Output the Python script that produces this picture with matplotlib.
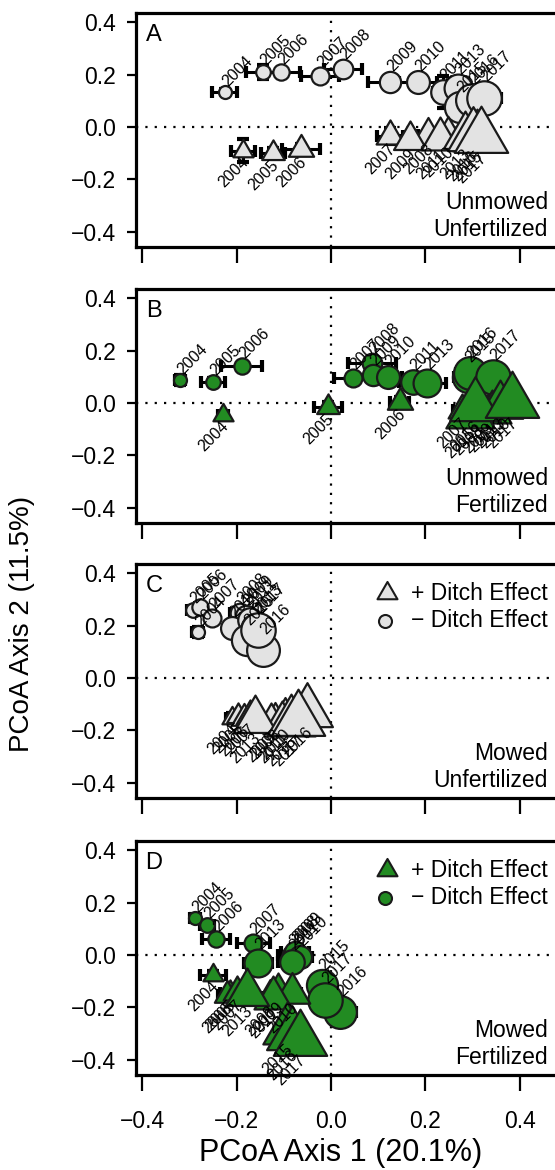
import numpy as np
import matplotlib
matplotlib.use('Agg')
import matplotlib.pyplot as plt
from matplotlib.path import Path

plt.rcParams['font.family'] = ['Liberation Sans', 'DejaVu Sans']

years = [2004, 2005, 2006, 2007, 2008, 2009, 2010, 2011, 2013, 2015, 2016, 2017]
x_ticks = [-0.4, -0.2, 0.0, 0.2, 0.4]
y_ticks = [-0.4, -0.2, 0.0, 0.2, 0.4]

# ---------------- Panel A : Unmowed / Unfertilized ----------------
A_minus_x = [-0.225, -0.144, -0.106, -0.023, 0.025, 0.125, 0.184, 0.237, 0.269, 0.273, 0.299, 0.324]
A_minus_y = [0.134, 0.210, 0.210, 0.195, 0.221, 0.172, 0.172, 0.134, 0.149, 0.076, 0.103, 0.111]
A_minus_xerr = [0.026, 0.036, 0.040, 0.040, 0.040, 0.047, 0.040, 0.020, 0.020, 0.020, 0.020, 0.036]
A_minus_yerr = [0.010, 0.025, 0.015, 0.020, 0.015, 0.015, 0.020, 0.060, 0.020, 0.020, 0.020, 0.020]
A_plus_x = [-0.186, -0.123, -0.064, 0.125, 0.205, 0.168, 0.248, 0.232, 0.284, 0.310, 0.300, 0.318]
A_plus_y = [-0.090, -0.100, -0.085, -0.035, -0.030, -0.048, -0.038, -0.045, -0.035, -0.038, -0.036, -0.040]
A_plus_xerr = [0.025, 0.025, 0.040, 0.028, 0.020, 0.020, 0.020, 0.020, 0.015, 0.015, 0.015, 0.015]
A_plus_yerr = [0.045, 0.020, 0.020, 0.030, 0.020, 0.020, 0.020, 0.020, 0.015, 0.015, 0.015, 0.015]

# ---------------- Panel B : Unmowed / Fertilized ----------------
B_minus_x = [-0.320, -0.250, -0.189, 0.047, 0.087, 0.089, 0.121, 0.174, 0.203, 0.290, 0.294, 0.343]
B_minus_y = [0.088, 0.080, 0.141, 0.095, 0.153, 0.107, 0.099, 0.080, 0.076, 0.099, 0.115, 0.099]
B_minus_xerr = [0.010, 0.025, 0.044, 0.040, 0.050, 0.040, 0.030, 0.030, 0.040, 0.030, 0.030, 0.030]
B_minus_yerr = [0.020, 0.015, 0.015, 0.020, 0.020, 0.020, 0.020, 0.020, 0.020, 0.020, 0.020, 0.020]
B_plus_x = [-0.229, -0.006, 0.146, 0.278, 0.311, 0.333, 0.369, 0.341, 0.358, 0.294, 0.305, 0.383]
B_plus_y = [-0.046, -0.015, 0.004, -0.027, -0.050, -0.038, -0.019, -0.034, -0.008, -0.042, -0.011, 0.004]
B_plus_xerr = [0.010, 0.030, 0.020, 0.020, 0.020, 0.020, 0.020, 0.020, 0.020, 0.020, 0.020, 0.020]
B_plus_yerr = [0.010, 0.020, 0.020, 0.020, 0.020, 0.020, 0.020, 0.020, 0.020, 0.020, 0.020, 0.020]

# ---------------- Panel C : Mowed / Unfertilized ----------------
C_minus_x = [-0.282, -0.292, -0.278, -0.252, -0.193, -0.180, -0.210, -0.172, -0.161, -0.178, -0.144, -0.155]
C_minus_y = [0.176, 0.260, 0.271, 0.229, 0.248, 0.237, 0.191, 0.221, 0.191, 0.145, 0.107, 0.183]
C_minus_xerr = [0.012, 0.012, 0.010, 0.012, 0.020, 0.015, 0.012, 0.015, 0.015, 0.012, 0.015, 0.015]
C_minus_yerr = [0.020, 0.015, 0.015, 0.015, 0.020, 0.015, 0.015, 0.015, 0.015, 0.015, 0.015, 0.015]
C_plus_x = [-0.210, -0.197, -0.184, -0.172, -0.119, -0.127, -0.097, -0.104, -0.161, -0.085, -0.051, -0.070]
C_plus_y = [-0.153, -0.145, -0.153, -0.145, -0.160, -0.168, -0.153, -0.172, -0.160, -0.168, -0.130, -0.160]
C_plus_xerr = [0.012, 0.012, 0.012, 0.012, 0.012, 0.012, 0.012, 0.012, 0.012, 0.012, 0.012, 0.012]
C_plus_yerr = [0.020, 0.015, 0.015, 0.015, 0.015, 0.015, 0.015, 0.015, 0.015, 0.015, 0.015, 0.015]

# ---------------- Panel D : Mowed / Fertilized ----------------
D_minus_x = [-0.288, -0.263, -0.244, -0.165, -0.083, -0.076, -0.066, -0.083, -0.155, -0.019, 0.019, -0.013]
D_minus_y = [0.141, 0.115, 0.061, 0.046, 0.000, 0.011, -0.008, -0.027, -0.031, -0.115, -0.218, -0.172]
D_minus_xerr = [0.010, 0.015, 0.030, 0.035, 0.030, 0.030, 0.025, 0.030, 0.030, 0.025, 0.035, 0.025]
D_minus_yerr = [0.015, 0.015, 0.015, 0.015, 0.015, 0.015, 0.015, 0.015, 0.015, 0.015, 0.015, 0.015]
D_plus_x = [-0.250, -0.214, -0.220, -0.199, -0.129, -0.112, -0.083, -0.123, -0.178, -0.093, -0.083, -0.066]
D_plus_y = [-0.076, -0.145, -0.153, -0.141, -0.160, -0.141, -0.145, -0.164, -0.145, -0.286, -0.305, -0.324]
D_plus_xerr = [0.027, 0.020, 0.020, 0.020, 0.020, 0.020, 0.020, 0.020, 0.020, 0.020, 0.020, 0.020]
D_plus_yerr = [0.015, 0.015, 0.015, 0.015, 0.015, 0.015, 0.015, 0.015, 0.015, 0.015, 0.015, 0.015]

panel_letters = ["A", "B", "C", "D"]
mow_labels = ["Unmowed", "Unmowed", "Mowed", "Mowed"]
fert_labels = ["Unfertilized", "Fertilized", "Unfertilized", "Fertilized"]
legend_labels = ["+ Ditch Effect", "\u2212 Ditch Effect"]
x_title = "PCoA Axis 1 (20.1%)"
y_title = "PCoA Axis 2 (11.5%)"

GREY = "#e3e3e3"
GREEN = "#228b22"
EDGE = "#1a1a1a"

panels = [
    (A_minus_x, A_minus_y, A_minus_xerr, A_minus_yerr, A_plus_x, A_plus_y, A_plus_xerr, A_plus_yerr, GREY),
    (B_minus_x, B_minus_y, B_minus_xerr, B_minus_yerr, B_plus_x, B_plus_y, B_plus_xerr, B_plus_yerr, GREEN),
    (C_minus_x, C_minus_y, C_minus_xerr, C_minus_yerr, C_plus_x, C_plus_y, C_plus_xerr, C_plus_yerr, GREY),
    (D_minus_x, D_minus_y, D_minus_xerr, D_minus_yerr, D_plus_x, D_plus_y, D_plus_xerr, D_plus_yerr, GREEN),
]

# equilateral triangle marker (centroid at origin)
tri = Path([(-1, -0.577), (1, -0.577), (0, 1.155), (-1, -0.577)],
           [Path.MOVETO, Path.LINETO, Path.LINETO, Path.CLOSEPOLY])

W, H = 555, 1170
DPI = 100
PX2PT = 72.0 / DPI
fig = plt.figure(figsize=(W / DPI, H / DPI), dpi=DPI)

ax_left = 136
ax_width = 430
ax_height = 234
tops = [13, 289, 564, 841]
XLIM = (-0.413, -0.413 + ax_width / 472.0)
YLIM = (-0.458, 0.435)


def circ_diam_px(yr):
    return 13 + 1.65 * (yr - 2004)


for i, (mx, my, mxe, mye, px_, py_, pxe, pye, col) in enumerate(panels):
    top = tops[i]
    ax = fig.add_axes([ax_left / W, (H - top - ax_height) / H, ax_width / W, ax_height / H])
    ax.set_xlim(*XLIM)
    ax.set_ylim(*YLIM)
    ax.axhline(0, color="black", lw=1.6, ls=(0, (1, 3.2)), zorder=1)
    ax.axvline(0, color="black", lw=1.6, ls=(0, (1, 3.2)), zorder=1)

    ax.errorbar(mx, my, xerr=mxe, yerr=mye, fmt="none", ecolor="black",
                elinewidth=2.2, capsize=4.5, capthick=3.0, zorder=2)
    ax.errorbar(px_, py_, xerr=pxe, yerr=pye, fmt="none", ecolor="black",
                elinewidth=2.2, capsize=4.5, capthick=3.0, zorder=2)

    d_px = np.array([circ_diam_px(y) for y in years])
    circ_s = (d_px * PX2PT) ** 2
    w_px = 1.55 * d_px
    tri_s = (w_px / 0.866 * PX2PT) ** 2

    for k, yr in enumerate(years):
        ax.scatter([mx[k]], [my[k]], s=circ_s[k], marker="o", facecolor=col,
                   edgecolor=EDGE, linewidths=1.6, zorder=3 + k * 0.01)
    for k, yr in enumerate(years):
        ax.scatter([px_[k]], [py_[k]], s=tri_s[k], marker=tri, facecolor=col,
                   edgecolor=EDGE, linewidths=1.6, zorder=4 + k * 0.01)

    for k, yr in enumerate(years):
        r = d_px[k] / 2
        ax.annotate(str(yr), (mx[k], my[k]), xytext=(0, (r + 2) * PX2PT),
                    textcoords="offset points", rotation=45, rotation_mode="anchor",
                    ha="left", va="center", fontsize=11.5, zorder=6)
        h = w_px[k] * 0.866
        ax.annotate(str(yr), (px_[k], py_[k]), xytext=(3 * PX2PT, -(h / 3 + 3) * PX2PT),
                    textcoords="offset points", rotation=45, rotation_mode="anchor",
                    ha="right", va="center", fontsize=11.5, zorder=6)

    ax.text(0.042, 0.905, panel_letters[i], transform=ax.transAxes, ha="center",
            va="center", fontsize=17)
    ax.text(0.958, 0.19, mow_labels[i], transform=ax.transAxes, ha="right",
            va="center", fontsize=16.5)
    ax.text(0.958, 0.075, fert_labels[i], transform=ax.transAxes, ha="right",
            va="center", fontsize=16.5)

    if i >= 2:
        ax.scatter([0.584], [0.876], s=(20 / 0.866 * PX2PT) ** 2, marker=tri,
                   facecolor=col, edgecolor=EDGE, linewidths=1.5,
                   transform=ax.transAxes, zorder=7, clip_on=False)
        ax.scatter([0.580], [0.757], s=(13 * PX2PT) ** 2, marker="o",
                   facecolor=col, edgecolor=EDGE, linewidths=1.5,
                   transform=ax.transAxes, zorder=7, clip_on=False)
        ax.text(0.958, 0.876, legend_labels[0], transform=ax.transAxes,
                ha="right", va="center", fontsize=16.5)
        ax.text(0.958, 0.757, legend_labels[1], transform=ax.transAxes,
                ha="right", va="center", fontsize=16.5)

    ax.set_xticks(x_ticks)
    ax.set_yticks(y_ticks)
    ax.set_yticklabels([f"{v:.1f}".replace("-", "\u2212") for v in y_ticks])
    ax.set_xticklabels([f"{v:.1f}".replace("-", "\u2212") for v in x_ticks])
    ax.tick_params(axis="x", direction="out", length=11.5, width=1.6,
                   pad=14, labelsize=16.5, labelbottom=(i == 3))
    ax.tick_params(axis="y", direction="out", length=6.5, width=1.6,
                   pad=8, labelsize=16.5)
    for sp in ax.spines.values():
        sp.set_linewidth(2.3)

fig.text(341 / W, 1 - 1153 / H, x_title, ha="center", va="center", fontsize=22)
fig.text(22 / W, 1 - 624 / H, y_title, ha="center", va="center", rotation=90, fontsize=20)

fig.savefig("out.png", dpi=DPI)
